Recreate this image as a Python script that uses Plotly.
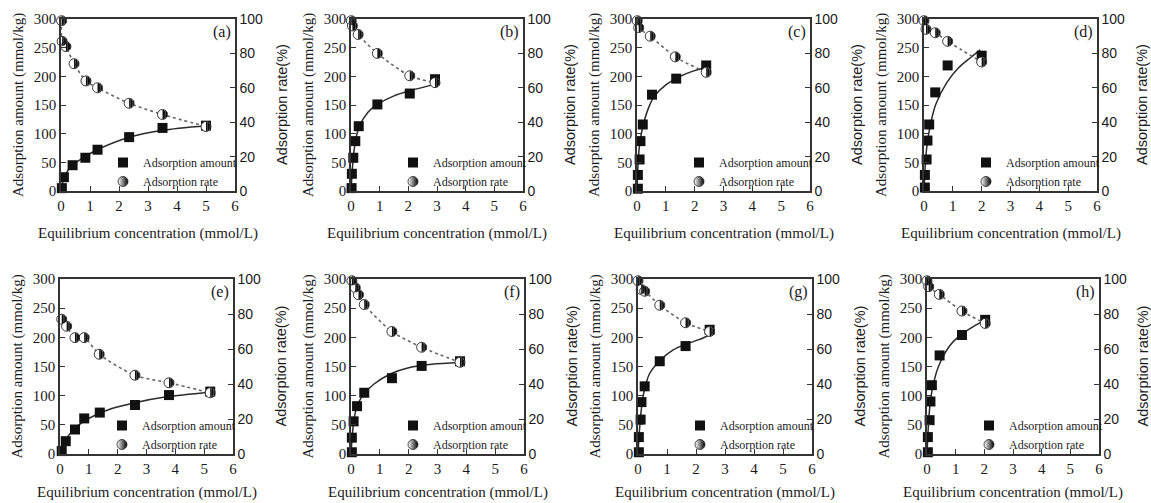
import plotly.graph_objects as go

# ---------------- data ----------------
x_ticks = [0, 1, 2, 3, 4, 5, 6]
left_ticks = [0, 50, 100, 150, 200, 250, 300]
right_ticks = [0, 20, 40, 60, 80, 100]
panel_labels = ["(a)", "(b)", "(c)", "(d)", "(e)", "(f)", "(g)", "(h)"]

# (a)
a_amt_x = [0.03, 0.1, 0.4, 0.84, 1.26, 2.35, 3.5, 5.0]
a_amt_y = [5, 24, 45, 58, 72, 94, 110, 114]
a_rate_x = [0.02, 0.04, 0.17, 0.45, 0.86, 1.26, 2.35, 3.5, 5.0]
a_rate_y = [99, 87, 84, 74, 64, 60, 51, 44.5, 37.5]
a_fit_x = [0, 0.05, 0.1, 0.2, 0.4, 0.8, 1.25, 2.3, 3.5, 5.0]
a_fit_y = [0, 14, 23, 33, 45, 59, 72, 93, 106, 114]

# (b)
b_amt_x = [0.02, 0.03, 0.08, 0.15, 0.27, 0.92, 2.05, 2.93]
b_amt_y = [5, 30, 58, 87, 113, 151, 170, 195]
b_rate_x = [0.01, 0.05, 0.25, 0.92, 2.05, 2.93]
b_rate_y = [99, 96, 91, 80, 67, 63]
b_fit_x = [0, 0.05, 0.1, 0.2, 0.3, 0.6, 0.92, 1.5, 2.05, 2.93]
b_fit_y = [0, 40, 68, 98, 114, 138, 151, 166, 175, 186]

# (c)
c_amt_x = [0.03, 0.03, 0.09, 0.12, 0.2, 0.52, 1.36, 2.4]
c_amt_y = [4, 28, 55, 87, 116, 168, 196, 219]
c_rate_x = [0.01, 0.06, 0.46, 1.33, 2.4]
c_rate_y = [99, 95, 90, 78, 69]
c_fit_x = [0, 0.05, 0.1, 0.2, 0.4, 0.6, 1.0, 1.5, 2.0, 2.4]
c_fit_y = [0, 60, 85, 112, 145, 165, 185, 200, 210, 216]

# (d)
d_amt_x = [0.03, 0.03, 0.09, 0.12, 0.18, 0.39, 0.82, 2.0]
d_amt_y = [6, 28, 55, 88, 116, 172, 219, 236]
d_rate_x = [0.0, 0.07, 0.39, 0.82, 2.0]
d_rate_y = [99, 94, 92, 87, 75]
d_fit_x = [0, 0.05, 0.1, 0.2, 0.4, 0.8, 1.2, 1.6, 1.95]
d_fit_y = [0, 50, 78, 110, 150, 190, 215, 232, 246]

# (e)
e_amt_x = [0.06, 0.2, 0.52, 0.84, 1.38, 2.6, 3.78, 5.21]
e_amt_y = [5, 22, 42, 61, 71, 84, 101, 107]
e_rate_x = [0.06, 0.23, 0.52, 0.84, 1.36, 2.6, 3.78, 5.21]
e_rate_y = [77, 73, 66.5, 66.5, 57, 45, 40.7, 35]
e_fit_x = [0, 0.1, 0.3, 0.5, 0.8, 1.2, 1.8, 2.6, 3.7, 5.2]
e_fit_y = [0, 15, 32, 43, 55, 66, 78, 88, 98, 106]

# (f)
f_amt_x = [0.03, 0.03, 0.09, 0.21, 0.46, 1.42, 2.45, 3.78]
f_amt_y = [3, 28, 56, 82, 105, 130, 151, 159]
f_rate_x = [0.03, 0.15, 0.26, 0.46, 1.42, 2.45, 3.78]
f_rate_y = [99, 95, 91, 85.4, 70, 61, 52.4]
f_fit_x = [0, 0.05, 0.1, 0.2, 0.4, 0.8, 1.4, 2.0, 2.8, 3.78]
f_fit_y = [0, 35, 58, 80, 100, 120, 138, 148, 154, 157]

# (g)
g_amt_x = [0.03, 0.03, 0.09, 0.12, 0.23, 0.75, 1.64, 2.47]
g_amt_y = [3, 29, 59, 89, 116, 159, 185, 213]
g_rate_x = [0.0, 0.11, 0.23, 0.75, 1.64, 2.47]
g_rate_y = [99, 94, 93, 85, 75, 70]
g_fit_x = [0, 0.05, 0.1, 0.2, 0.4, 0.75, 1.2, 1.64, 2.1, 2.47]
g_fit_y = [0, 40, 70, 105, 138, 160, 178, 188, 196, 204]

# (h)
h_amt_x = [0.03, 0.03, 0.09, 0.12, 0.17, 0.44, 1.22, 2.03]
h_amt_y = [3, 29, 58, 90, 118, 169, 204, 230]
h_rate_x = [0.0, 0.06, 0.43, 1.22, 2.03]
h_rate_y = [99, 95.6, 91.2, 81.7, 74.6]
h_fit_x = [0, 0.05, 0.1, 0.2, 0.4, 0.8, 1.2, 1.6, 2.03]
h_fit_y = [0, 50, 82, 115, 150, 186, 205, 218, 230]

amt_name = "Adsorption amount"
rate_name = "Adsorption rate"
x_title = "Equilibrium concentration (mmol/L)"
yl_title = "Adsorption amount (mmol/kg)"
yr_title = "Adsorption rate(%)"

panels = [
    (a_amt_x, a_amt_y, a_rate_x, a_rate_y, a_fit_x, a_fit_y),
    (b_amt_x, b_amt_y, b_rate_x, b_rate_y, b_fit_x, b_fit_y),
    (c_amt_x, c_amt_y, c_rate_x, c_rate_y, c_fit_x, c_fit_y),
    (d_amt_x, d_amt_y, d_rate_x, d_rate_y, d_fit_x, d_fit_y),
    (e_amt_x, e_amt_y, e_rate_x, e_rate_y, e_fit_x, e_fit_y),
    (f_amt_x, f_amt_y, f_rate_x, f_rate_y, f_fit_x, f_fit_y),
    (g_amt_x, g_amt_y, g_rate_x, g_rate_y, g_fit_x, g_fit_y),
    (h_amt_x, h_amt_y, h_rate_x, h_rate_y, h_fit_x, h_fit_y),
]

# ---------------- layout geometry (pixels) ----------------
W, H = 1151, 503
px_x = [(61, 235), (351, 523), (637, 810), (924, 1097),
        (60, 233), (351, 524), (638, 812), (927, 1099)]
px_y = [(19, 191)] * 4 + [(279, 454)] * 4
xtitle_off = [42] * 4 + [38] * 4

# half-filled circle marker: white disc + three black vertical strokes on its right half
HALF_STROKES = [(0.78, 6.5), (2.33, 5.7), (3.85, 3.7)]   # (pixel offset, symbol size)

SERIF = "Liberation Serif, Times New Roman, serif"
SANS = "Liberation Sans, Arial, sans-serif"
INK = "#1a1a1a"
AXC = "#333333"

fig = go.Figure()
layout = dict(
    width=W, height=H, autosize=False,
    margin=dict(l=0, r=0, t=0, b=0, pad=0, autoexpand=False),
    paper_bgcolor="white", plot_bgcolor="white",
    showlegend=True,
    annotations=[],
)

for i, (ax, ay, rx, ry, fx, fy) in enumerate(panels):
    n = i + 1
    xa = "x" if n == 1 else f"x{n}"
    yl = "y" if n == 1 else f"y{n}"
    yr = f"y{n + 8}"
    leg = "legend" if n == 1 else f"legend{n}"
    x0, x1 = px_x[i]
    yt, yb = px_y[i]

    # fitted curve and dotted guide line
    fig.add_trace(go.Scatter(x=fx, y=fy, mode="lines", xaxis=xa, yaxis=yl,
                             line=dict(color="#2a2a2a", width=1.5, shape="spline", smoothing=0.8),
                             showlegend=False, hoverinfo="skip"))
    fig.add_trace(go.Scatter(x=rx, y=ry, mode="lines", xaxis=xa, yaxis=yr,
                             line=dict(color="#666666", width=1.6, dash="dot", shape="spline", smoothing=0.8),
                             showlegend=False, hoverinfo="skip"))
    # adsorption amount (squares)
    fig.add_trace(go.Scatter(x=ax, y=ay, mode="markers", xaxis=xa, yaxis=yl,
                             name=amt_name, legend=leg, cliponaxis=False,
                             marker=dict(symbol="square", size=10, color="#111111")))
    # adsorption rate: white disc with outline ...
    fig.add_trace(go.Scatter(x=rx, y=ry, mode="markers", xaxis=xa, yaxis=yr,
                             showlegend=False, cliponaxis=False,
                             marker=dict(symbol="circle", size=10, color="#ffffff",
                                         line=dict(color="#222222", width=0.9))))
    # ... whose right half is filled black
    for off, sz in HALF_STROKES:
        fig.add_trace(go.Scatter(x=rx, y=ry, mode="markers", xaxis=xa, yaxis=yr,
                                 showlegend=False, cliponaxis=False, hoverinfo="skip",
                                 marker=dict(symbol="line-ew", size=sz, angle=-90, standoff=off,
                                             color="#111111",
                                             line=dict(color="#111111", width=1.6))))
    # legend entry for the rate markers
    fig.add_trace(go.Scatter(x=[None], y=[None], mode="markers", xaxis=xa, yaxis=yr,
                             name=rate_name, legend=leg,
                             marker=dict(symbol="circle", size=10, color="#ffffff",
                                         gradient=dict(type="horizontal", color="#000000"),
                                         line=dict(color="#222222", width=0.8))))

    common = dict(showgrid=False, zeroline=False, showline=True, linecolor=AXC, linewidth=1.5,
                  ticks="inside", ticklen=5, tickwidth=1.2, tickcolor=AXC, automargin=False)
    layout[f"xaxis{n}"] = dict(domain=[x0 / W, x1 / W], anchor=yl, range=[0, 6],
                               tickvals=x_ticks, mirror=True,
                               tickfont=dict(family=SERIF, size=15, color=INK), **common)
    layout[f"yaxis{n}"] = dict(domain=[1 - yb / H, 1 - yt / H], anchor=xa, range=[0, 300],
                               tickvals=left_ticks,
                               tickfont=dict(family=SERIF, size=15, color=INK), **common)
    layout[f"yaxis{n + 8}"] = dict(overlaying=yl, side="right", anchor=xa, range=[0, 100],
                                   tickvals=right_ticks,
                                   tickfont=dict(family=SANS, size=14, color=INK), **common)
    layout[leg] = dict(x=(x0 + 42) / W, y=1 - (yb - 43) / H, xanchor="left", yanchor="top",
                       bgcolor="rgba(0,0,0,0)", borderwidth=0,
                       font=dict(family=SERIF, size=12, color=INK),
                       tracegroupgap=0, itemwidth=30)

    ymid = 1 - (yt + yb) / 2 / H
    layout["annotations"] += [
        dict(text=panel_labels[i], x=(x1 - 2) / W, y=1 - (yt + 13) / H, xref="paper", yref="paper",
             xanchor="right", yanchor="middle", showarrow=False,
             font=dict(family=SERIF, size=16, color=INK)),
        dict(text=yl_title, x=(x0 - 43) / W, y=ymid, xref="paper", yref="paper",
             xanchor="center", yanchor="middle", textangle=-90, showarrow=False,
             font=dict(family=SERIF, size=15, color=INK)),
        dict(text=yr_title, x=min(x1 + 47, 1142) / W, y=ymid, xref="paper", yref="paper",
             xanchor="center", yanchor="middle", textangle=-90, showarrow=False,
             font=dict(family=SANS, size=14.5, color=INK)),
        dict(text=x_title, x=(x0 + x1) / 2 / W, y=1 - (yb + xtitle_off[i]) / H,
             xref="paper", yref="paper", xanchor="center", yanchor="middle", showarrow=False,
             font=dict(family=SERIF, size=15, color=INK)),
    ]

fig.update_layout(**layout)
fig.write_html("out.html",
               config={"displayModeBar": False},
               post_script="document.body.style.margin='0px';document.body.style.overflow='hidden';")
